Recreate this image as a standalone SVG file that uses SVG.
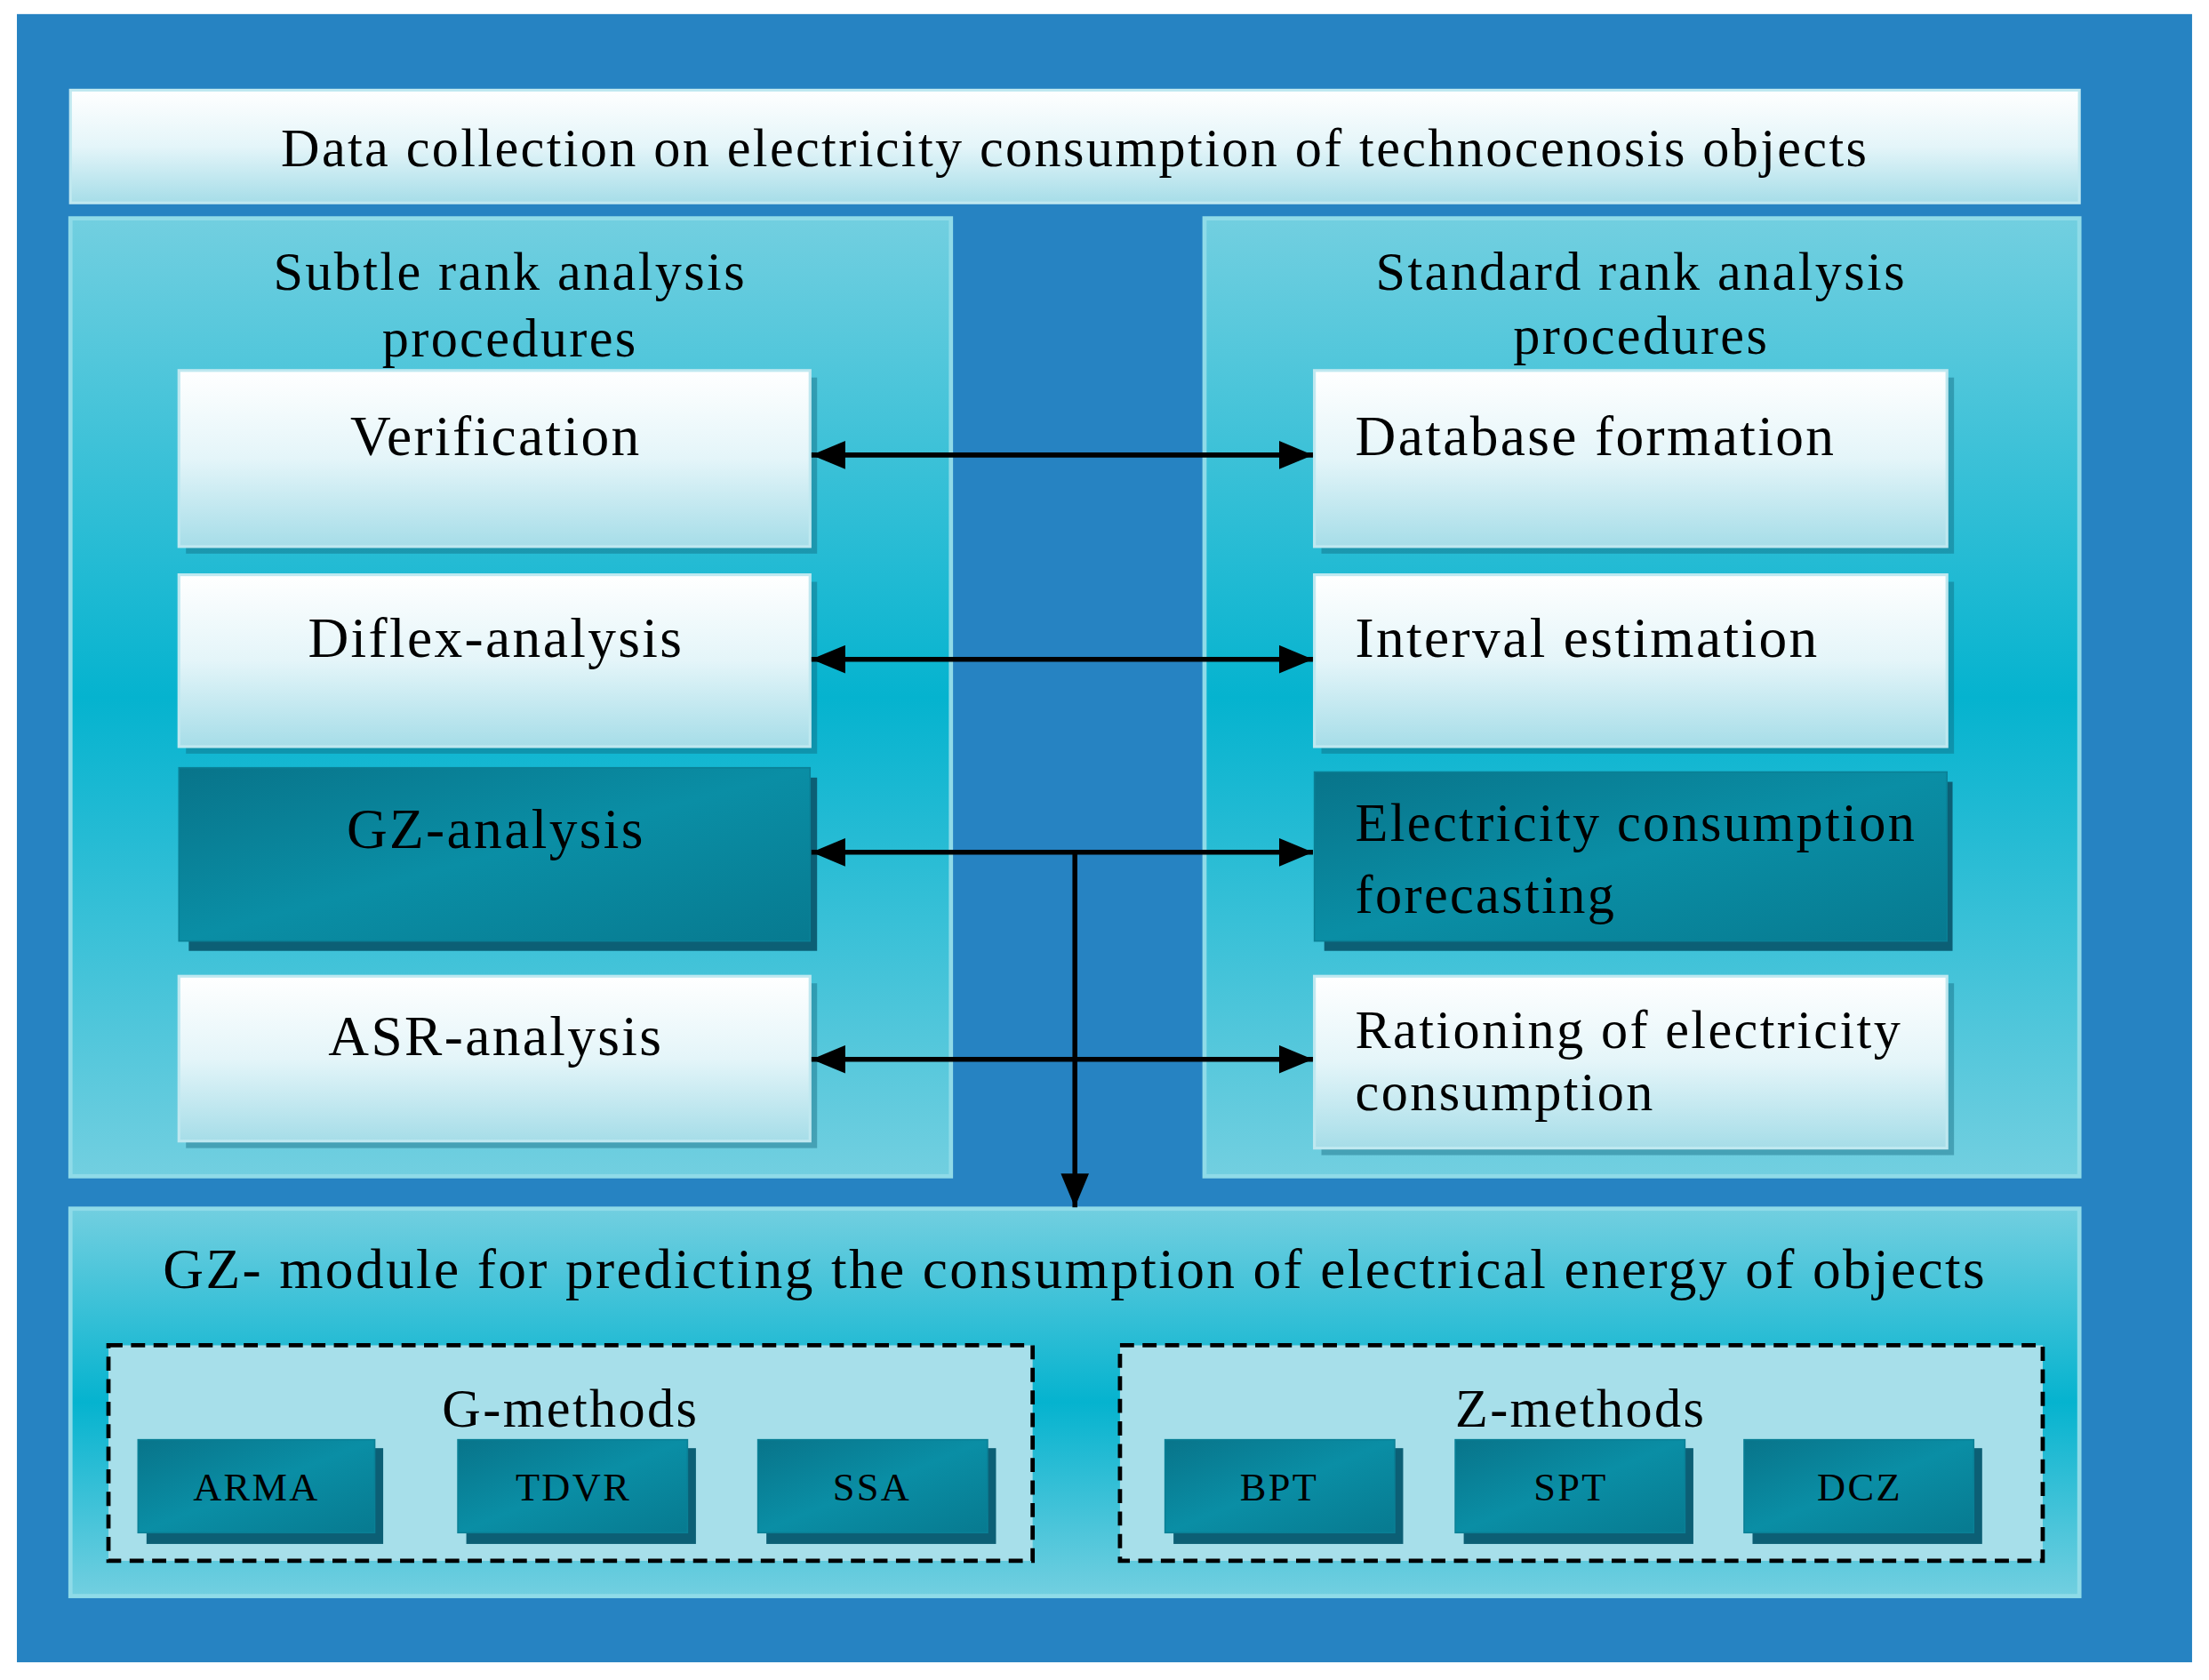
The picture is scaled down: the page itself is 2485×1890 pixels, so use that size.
<svg xmlns="http://www.w3.org/2000/svg" width="2485" height="1890" viewBox="0 0 2485 1890">
<defs>
<linearGradient id="lw" x1="0" y1="0" x2="0" y2="1"><stop offset="0" stop-color="#ffffff"/><stop offset="0.5" stop-color="#e4f5f9"/><stop offset="1" stop-color="#a6dde8"/></linearGradient>
<linearGradient id="pn" x1="0" y1="0" x2="0" y2="1"><stop offset="0" stop-color="#72cfe0"/><stop offset="0.5" stop-color="#05b3cf"/><stop offset="1" stop-color="#72cfe0"/></linearGradient>
<linearGradient id="dk" x1="0" y1="0" x2="1" y2="1"><stop offset="0" stop-color="#08748a"/><stop offset="0.5" stop-color="#0a8ea5"/><stop offset="1" stop-color="#077a90"/></linearGradient>
<marker id="ah" viewBox="0 0 10 10" refX="10" refY="5" markerWidth="24" markerHeight="20" markerUnits="userSpaceOnUse" orient="auto-start-reverse" preserveAspectRatio="none"><path d="M0,0 L10,5 L0,10 z" fill="#000"/></marker>
</defs>
<style>
.t{font-family:"Liberation Serif",serif;fill:#000;letter-spacing:1.5px}
.sh{fill:#0c5f75}
.lb{fill:url(#lw);stroke:#bfe8f0;stroke-width:2}
.dbx{fill:url(#dk);stroke:#0a8096;stroke-width:1}
.pnl{fill:url(#pn);stroke:#8fdbe8;stroke-width:3}
.c{stroke:#000;stroke-width:3.5;fill:none}
</style>
<rect width="2485" height="1890" fill="#fff"/>
<g transform="scale(1.5848)">
<rect x="12" y="10" width="1544" height="1170" fill="#2683c2"/>
<g id="top"><rect x="50" y="64" width="1426" height="80" class="lb"/><text x="763" y="118" font-size="38" text-anchor="middle" class="t">Data collection on electricity consumption of technocenosis objects</text></g>
<g id="left"><rect x="50" y="155" width="625" height="680" class="pnl"/><text x="362" y="206" font-size="38" text-anchor="middle" class="t">Subtle rank analysis</text><text x="362" y="253" font-size="38" text-anchor="middle" class="t">procedures</text></g>
<g id="right"><rect x="855" y="155" width="621" height="680" class="pnl"/><text x="1165" y="206" font-size="38" text-anchor="middle" class="t">Standard rank analysis</text><text x="1165" y="251" font-size="38" text-anchor="middle" class="t">procedures</text></g>
<g id="verif"><rect x="132" y="268" width="448" height="125" class="sh" opacity="0.4"/><rect x="127" y="263" width="448" height="125" class="lb"/><text x="352" y="323" font-size="40" text-anchor="middle" class="t">Verification</text></g>
<g id="diflex"><rect x="132" y="413" width="448" height="122" class="sh" opacity="0.4"/><rect x="127" y="408" width="448" height="122" class="lb"/><text x="352" y="466" font-size="40" text-anchor="middle" class="t">Diflex-analysis</text></g>
<g id="gz"><rect x="134" y="552" width="446" height="123" class="sh"/><rect x="127" y="545" width="448" height="123" class="dbx"/><text x="352" y="602" font-size="40" text-anchor="middle" class="t">GZ-analysis</text></g>
<g id="asr"><rect x="132" y="698" width="448" height="117" class="sh" opacity="0.4"/><rect x="127" y="693" width="448" height="117" class="lb"/><text x="352" y="749" font-size="40" text-anchor="middle" class="t">ASR-analysis</text></g>
<g id="db"><rect x="938" y="268" width="449" height="125" class="sh" opacity="0.4"/><rect x="933" y="263" width="449" height="125" class="lb"/><text x="962" y="323" font-size="40" class="t">Database formation</text></g>
<g id="interval"><rect x="938" y="413" width="449" height="122" class="sh" opacity="0.4"/><rect x="933" y="408" width="449" height="122" class="lb"/><text x="962" y="466" font-size="40" class="t">Interval estimation</text></g>
<g id="forecast"><rect x="940" y="555" width="446" height="120" class="sh"/><rect x="933" y="548" width="449" height="120" class="dbx"/><text x="962" y="597" font-size="38" class="t">Electricity  consumption</text><text x="962" y="648" font-size="38" class="t">forecasting</text></g>
<g id="ration"><rect x="938" y="698" width="449" height="122" class="sh" opacity="0.4"/><rect x="933" y="693" width="449" height="122" class="lb"/><text x="962" y="744" font-size="38" class="t">Rationing  of  electricity</text><text x="962" y="788" font-size="38" class="t">consumption</text></g>
<g id="bottom"><rect x="50" y="858" width="1426" height="275" class="pnl"/><text x="763" y="914" font-size="40" text-anchor="middle" class="t">GZ- module for predicting the consumption of electrical energy of objects</text></g>
<g id="gm"><rect x="77" y="955" width="656" height="153" fill="#a7dfea" stroke="#000" stroke-width="3" stroke-dasharray="10,6"/><text x="405" y="1013" font-size="38" text-anchor="middle" class="t">G-methods</text></g>
<g id="zm"><rect x="795" y="955" width="655" height="153" fill="#a7dfea" stroke="#000" stroke-width="3" stroke-dasharray="10,6"/><text x="1122" y="1013" font-size="38" text-anchor="middle" class="t">Z-methods</text></g>
<g id="arma"><rect x="104" y="1028" width="168" height="68" class="sh"/><rect x="98" y="1022" width="168" height="66" class="dbx"/><text x="182" y="1065" font-size="28" text-anchor="middle" class="t">ARMA</text></g>
<g id="tdvr"><rect x="331" y="1028" width="163" height="68" class="sh"/><rect x="325" y="1022" width="163" height="66" class="dbx"/><text x="407" y="1065" font-size="28" text-anchor="middle" class="t">TDVR</text></g>
<g id="ssa"><rect x="544" y="1028" width="163" height="68" class="sh"/><rect x="538" y="1022" width="163" height="66" class="dbx"/><text x="619" y="1065" font-size="28" text-anchor="middle" class="t">SSA</text></g>
<g id="bpt"><rect x="833" y="1028" width="163" height="68" class="sh"/><rect x="827" y="1022" width="163" height="66" class="dbx"/><text x="908" y="1065" font-size="28" text-anchor="middle" class="t">BPT</text></g>
<g id="spt"><rect x="1039" y="1028" width="163" height="68" class="sh"/><rect x="1033" y="1022" width="163" height="66" class="dbx"/><text x="1115" y="1065" font-size="28" text-anchor="middle" class="t">SPT</text></g>
<g id="dcz"><rect x="1244" y="1028" width="163" height="68" class="sh"/><rect x="1238" y="1022" width="163" height="66" class="dbx"/><text x="1320" y="1065" font-size="28" text-anchor="middle" class="t">DCZ</text></g>
<g id="connectors">
<line x1="576" y1="323" x2="932" y2="323" class="c" marker-start="url(#ah)" marker-end="url(#ah)"/>
<line x1="576" y1="468" x2="932" y2="468" class="c" marker-start="url(#ah)" marker-end="url(#ah)"/>
<line x1="576" y1="605" x2="932" y2="605" class="c" marker-start="url(#ah)" marker-end="url(#ah)"/>
<line x1="576" y1="752" x2="932" y2="752" class="c" marker-start="url(#ah)" marker-end="url(#ah)"/>
<line x1="763" y1="605" x2="763" y2="857" class="c" marker-end="url(#ah)"/>
</g>
</g>
</svg>
